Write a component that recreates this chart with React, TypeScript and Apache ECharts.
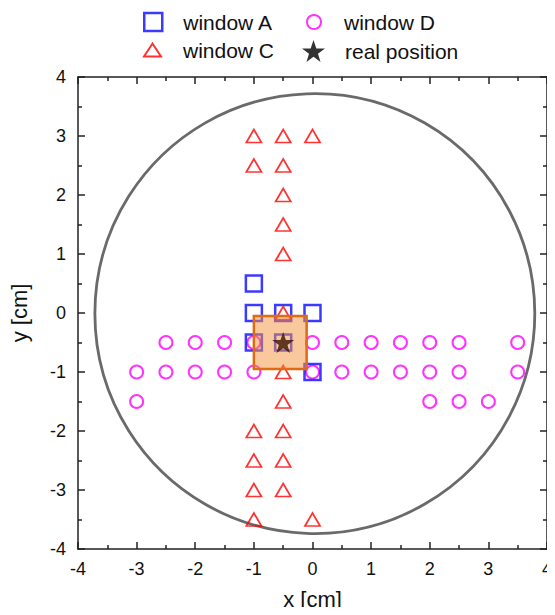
import React, { useEffect, useRef } from "react";
import * as echarts from "echarts";

// window A (blue squares)
const windowA: [number, number][] = [
  [-1, 0.5], [-1, 0], [-0.5, 0], [0, 0], [-1, -0.5], [-0.5, -0.5], [0, -1],
];
// window C (red triangles)
const windowC: [number, number][] = [
  [-1, 3], [-1, 2.5], [-1, -2], [-1, -2.5], [-1, -3], [-1, -3.5],
  [-0.5, 3], [-0.5, 2.5], [-0.5, 2], [-0.5, 1.5], [-0.5, 1], [-0.5, 0],
  [-0.5, -1], [-0.5, -1.5], [-0.5, -2], [-0.5, -2.5], [-0.5, -3],
  [0, 3], [0, -3.5],
];
// window D (magenta circles)
const windowD: [number, number][] = [
  [-2.5, -0.5], [-2, -0.5], [-1.5, -0.5], [-1, -0.5], [0, -0.5], [0.5, -0.5],
  [1, -0.5], [1.5, -0.5], [2, -0.5], [2.5, -0.5], [3.5, -0.5],
  [-3, -1], [-2.5, -1], [-2, -1], [-1.5, -1], [-1, -1], [0, -1], [0.5, -1],
  [1, -1], [1.5, -1], [2, -1], [2.5, -1], [3.5, -1],
  [-3, -1.5], [2, -1.5], [2.5, -1.5], [3, -1.5],
];
// real position (star)
const realPosition: [number, number][] = [[-0.5, -0.5]];
// detector outline: [cx, cy, r]
const detectorCircle: [number, number, number][] = [[0.04, -0.01, 3.74]];
// estimated area: [x0, y0, x1, y1]
const estimateBox: [number, number, number, number][] = [[-1.0, -0.95, -0.1, -0.05]];

const STAR =
  "path://M50,0 L61.8,35.1 L98.1,35.1 L68.8,56.8 L79.4,91 L50,70 L20.6,91 L31.2,56.8 L1.9,35.1 L38.2,35.1 Z";

const FONT = "'Liberation Sans', Arial, sans-serif";

export default function App() {
  const ref = useRef<HTMLDivElement>(null);
  useEffect(() => {
    const chart = echarts.init(ref.current!, null, { renderer: "svg" });
    const axisLine = { show: true, onZero: false, lineStyle: { color: "#222", width: 1.5 } };
    const baseAxis = {
      type: "value" as const,
      min: -4,
      max: 4,
      interval: 1,
      axisLine,
      axisTick: { show: true, inside: true, length: 7, lineStyle: { color: "#222", width: 1.5 } },
      minorTick: { show: true, splitNumber: 2, length: 4, lineStyle: { color: "#222", width: 1.5 } },
      splitLine: { show: false },
    };
    const legendCommon = {
      padding: 0,
      selectedMode: false,
      orient: "horizontal" as const,
      textStyle: { fontSize: 21, fontFamily: FONT, color: "#111", lineHeight: 24 },
    };
    chart.setOption({
      animation: false,
      grid: { left: 78, right: 6, top: 77, bottom: 66 },
      legend: [
        {
          ...legendCommon,
          left: 143,
          top: 10,
          itemWidth: 18,
          itemHeight: 18,
          data: [{ name: "window A", icon: "rect", itemStyle: { color: "rgba(0,0,0,0)", borderColor: "#0a0aff", borderWidth: 2.5 } }],
          textStyle: { ...legendCommon.textStyle, padding: [0, 0, 0, 16] },
        },
        {
          ...legendCommon,
          left: 306,
          top: 10,
          itemWidth: 14,
          itemHeight: 14,
          data: [{ name: "window D", icon: "circle", itemStyle: { color: "rgba(0,0,0,0)", borderColor: "#ff00ff", borderWidth: 2 } }],
          textStyle: { ...legendCommon.textStyle, padding: [0, 0, 0, 18] },
        },
        {
          ...legendCommon,
          left: 143,
          top: 38,
          itemWidth: 17,
          itemHeight: 13,
          data: [{ name: "window C", icon: "triangle", itemStyle: { color: "rgba(0,0,0,0)", borderColor: "#ff0000", borderWidth: 2 } }],
          textStyle: { ...legendCommon.textStyle, padding: [0, 0, 0, 17] },
        },
        {
          ...legendCommon,
          left: 302,
          top: 39,
          itemWidth: 23,
          itemHeight: 22,
          data: [{ name: "real position", icon: STAR, itemStyle: { color: "#000", borderWidth: 0 } }],
          textStyle: { ...legendCommon.textStyle, padding: [0, 0, 0, 15] },
        },
      ],
      xAxis: [
        {
          ...baseAxis,
          position: "bottom",
          axisLabel: { fontSize: 18, fontFamily: FONT, color: "#111", margin: 11 },
          name: "x [cm]",
          nameLocation: "middle",
          nameGap: 39,
          nameTextStyle: { fontSize: 22, fontFamily: FONT, color: "#111" },
        },
        {
          ...baseAxis,
          position: "top",
          axisLabel: { show: false },
        },
      ],
      yAxis: [
        {
          ...baseAxis,
          position: "left",
          axisLabel: { fontSize: 18, fontFamily: FONT, color: "#111", margin: 12 },
          name: "y [cm]",
          nameLocation: "middle",
          nameGap: 48,
          nameTextStyle: { fontSize: 22, fontFamily: FONT, color: "#111" },
        },
        {
          ...baseAxis,
          position: "right",
          axisLabel: { show: false },
        },
      ],
      series: [
        {
          type: "custom",
          name: "detector",
          xAxisIndex: 0,
          yAxisIndex: 0,
          z: 1,
          silent: true,
          data: detectorCircle,
          renderItem: (_p: any, api: any) => {
            const c = api.coord([api.value(0), api.value(1)]);
            const s = api.size([api.value(2), api.value(2)]);
            return {
              type: "circle",
              shape: { cx: c[0], cy: c[1], r: (s[0] + s[1]) / 2 },
              style: { fill: "none", stroke: "#6a6a6a", lineWidth: 2.8 },
            };
          },
        },
        {
          type: "scatter",
          name: "window D",
          data: windowD,
          symbol: "circle",
          symbolSize: 13,
          z: 2,
          itemStyle: { color: "rgba(0,0,0,0)", borderColor: "#ff00ff", borderWidth: 2 },
        },
        {
          type: "scatter",
          name: "window A",
          data: windowA,
          symbol: "rect",
          symbolSize: 16,
          z: 3,
          itemStyle: { color: "rgba(0,0,0,0)", borderColor: "#0a0aff", borderWidth: 2.5 },
        },
        {
          type: "scatter",
          name: "window C",
          data: windowC,
          symbol: "triangle",
          symbolSize: [15, 13],
          z: 4,
          itemStyle: { color: "rgba(0,0,0,0)", borderColor: "#ff0000", borderWidth: 1.8 },
        },
        {
          type: "custom",
          name: "estimate",
          z: 5,
          silent: true,
          data: estimateBox,
          renderItem: (_p: any, api: any) => {
            const a = api.coord([api.value(0), api.value(3)]);
            const b = api.coord([api.value(2), api.value(1)]);
            return {
              type: "rect",
              shape: { x: a[0], y: a[1], width: b[0] - a[0], height: b[1] - a[1] },
              style: { fill: "rgba(244,146,58,0.5)", stroke: "#e06b12", lineWidth: 2.5 },
            };
          },
        },
        {
          type: "scatter",
          name: "real position",
          data: realPosition,
          symbol: STAR,
          symbolSize: [22, 21],
          z: 6,
          itemStyle: { color: "#3a1404" },
        },
      ],
    });
    return () => chart.dispose();
  }, []);
  return <div ref={ref} style={{ width: 555, height: 615, margin: -8 }} />;
}
